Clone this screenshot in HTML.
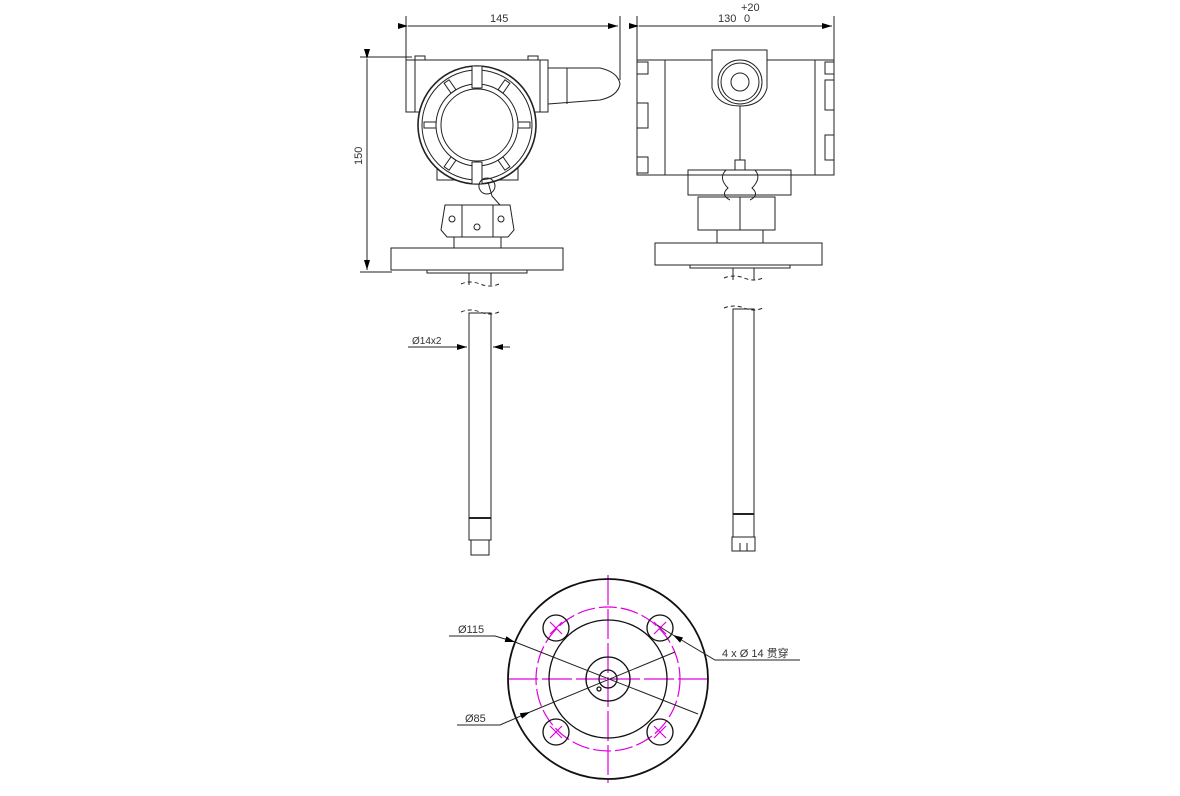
<!DOCTYPE html>
<html><head><meta charset="utf-8"><style>html,body{margin:0;padding:0;background:#fff}svg{display:block}</style></head>
<body>
<svg width="1180" height="796" viewBox="0 0 1180 796" xmlns="http://www.w3.org/2000/svg" font-family="Liberation Sans, sans-serif">
<defs><marker id="a" markerWidth="10" markerHeight="6" refX="10" refY="3" orient="auto" markerUnits="userSpaceOnUse"><path d="M0,0 L10,3 L0,6z" fill="#000"/></marker></defs>
<g fill="none" stroke="#222" stroke-width="1">
<line x1="406" y1="16" x2="406" y2="60"/><line x1="620" y1="16" x2="620" y2="80"/>
<line x1="408" y1="26" x2="618" y2="26" marker-start="url(#a)" marker-end="url(#a)"/>
<line x1="360" y1="57" x2="412" y2="57"/><line x1="360" y1="272" x2="392" y2="272"/>
<line x1="367" y1="59" x2="367" y2="270" marker-start="url(#a)" marker-end="url(#a)"/>
<rect x="406" y="60" width="142" height="52"/>
<line x1="415" y1="60" x2="415" y2="112"/><line x1="540" y1="60" x2="540" y2="112"/>
<rect x="415" y="56" width="10" height="4"/><rect x="528" y="56" width="10" height="4"/>
<path d="M548,68 L600,68 Q618,72 620,84 Q618,96 600,100 L548,104"/>
<line x1="567" y1="68" x2="567" y2="104"/>
<rect x="437" y="160" width="81" height="20" fill="#fff"/>
<circle cx="477" cy="125" r="59" fill="#fff" stroke-width="1.6"/>
<circle cx="477" cy="125" r="55"/>
<circle cx="477" cy="125" r="41"/><circle cx="477" cy="125" r="36"/>
<g transform="translate(477 125)">
<rect x="-3" y="-53" width="6" height="12" transform="rotate(35)"/><rect x="-3" y="-53" width="6" height="12" transform="rotate(-35)"/>
<rect x="-3" y="-53" width="6" height="12" transform="rotate(90)"/><rect x="-3" y="-53" width="6" height="12" transform="rotate(-90)"/>
<rect x="-3" y="-53" width="6" height="12" transform="rotate(145)"/><rect x="-3" y="-53" width="6" height="12" transform="rotate(-145)"/>
</g>
<rect x="472" y="66" width="10" height="22" fill="#fff"/><rect x="472" y="162" width="10" height="22" fill="#fff"/>
<path d="M487,178 a8,8 0 1,1 -0.1,0 M488,182 L492,196 L500,205"/>
<path d="M445,205 L510,205 L514,230 L508,237 L447,237 L441,230 Z"/>
<line x1="462" y1="205" x2="462" y2="237"/><line x1="493" y1="205" x2="493" y2="237"/>
<circle cx="452" cy="219" r="3"/><circle cx="501" cy="219" r="3"/><circle cx="477" cy="227" r="3"/>
<rect x="454" y="237" width="47" height="11"/>
<rect x="391" y="248" width="172" height="22"/>
<rect x="427" y="270" width="100" height="3"/>
<line x1="469" y1="273" x2="469" y2="285"/><line x1="491" y1="273" x2="491" y2="285"/>
<path d="M461,284 Q470,280 480,284 T499,284" stroke-dasharray="4,3"/>
<path d="M461,312 Q470,308 480,312 T499,312" stroke-dasharray="4,3"/>
<rect x="469" y="313" width="22" height="205"/>
<line x1="469" y1="518" x2="491" y2="518" stroke-width="2"/>
<rect x="469" y="518" width="22" height="22"/>
<rect x="471" y="540" width="18" height="15"/>
<line x1="408" y1="347" x2="467" y2="347" marker-end="url(#a)"/>
<line x1="510" y1="347" x2="493" y2="347" marker-end="url(#a)"/>
<line x1="637" y1="16" x2="637" y2="60"/><line x1="834" y1="16" x2="834" y2="60"/>
<line x1="639" y1="26" x2="832" y2="26" marker-start="url(#a)" marker-end="url(#a)"/>
<rect x="637" y="60" width="197" height="115"/>
<line x1="665" y1="60" x2="665" y2="175"/><line x1="815" y1="60" x2="815" y2="175"/>
<rect x="637" y="62" width="11" height="12"/><rect x="637" y="103" width="11" height="25"/><rect x="637" y="157" width="11" height="16"/>
<rect x="825" y="62" width="9" height="12"/><rect x="825" y="80" width="9" height="30"/><rect x="825" y="135" width="9" height="25"/>
<path d="M712,50 L767,50 L767,88 Q762,106 740,106 Q718,106 712,88 Z" fill="#fff"/>
<circle cx="740" cy="82" r="22"/><circle cx="740" cy="82" r="19"/><circle cx="740" cy="82" r="9"/>
<line x1="740" y1="106" x2="740" y2="160"/>
<rect x="735" y="160" width="10" height="10"/>
<path d="M688,170 L791,170 L791,195 L688,195 Z"/>
<path d="M726,170 Q718,178 728,188 Q720,195 730,200 M755,170 Q762,178 752,188 Q760,195 750,200"/>
<rect x="698" y="197" width="77" height="33"/><line x1="740" y1="197" x2="740" y2="230"/>
<rect x="717" y="230" width="46" height="13"/>
<rect x="655" y="243" width="167" height="22"/>
<rect x="690" y="265" width="100" height="3"/>
<line x1="733" y1="268" x2="733" y2="280"/><line x1="754" y1="268" x2="754" y2="280"/>
<path d="M724,278 Q734,274 744,278 T763,278" stroke-dasharray="4,3"/>
<path d="M724,308 Q734,304 744,308 T763,308" stroke-dasharray="4,3"/>
<rect x="733" y="309" width="21" height="205"/>
<line x1="733" y1="514" x2="754" y2="514" stroke-width="2"/>
<rect x="733" y="514" width="21" height="23"/>
<rect x="732" y="537" width="23" height="14"/><line x1="740" y1="543" x2="740" y2="551"/><line x1="747" y1="543" x2="747" y2="551"/>
</g>
<g font-size="11" fill="#333">
<text x="490" y="22">145</text>
<text x="362" y="165" transform="rotate(-90 362 165)">150</text>
<text x="718" y="22">130</text><text x="744" y="22">0</text><text x="741" y="11">+20</text>
<text x="412" y="344" font-size="10">Ø14x2</text>
</g>
<g fill="none">
<g stroke="#e000e0" stroke-width="1.2">
<circle cx="608" cy="679" r="72" stroke-dasharray="18,4"/>
<line x1="508" y1="679" x2="712" y2="679" stroke-dasharray="30,4"/>
<line x1="608" y1="575" x2="608" y2="783" stroke-dasharray="30,4"/>
<path d="M550,622 l12,12 m0,-12 l-12,12 M654,622 l12,12 m0,-12 l-12,12 M550,726 l12,12 m0,-12 l-12,12 M654,726 l12,12 m0,-12 l-12,12"/>
</g>
<g stroke="#111" stroke-width="1.3">
<circle cx="608" cy="679" r="100" stroke-width="1.8"/>
<circle cx="608" cy="679" r="59"/>
<circle cx="608" cy="679" r="22"/><circle cx="608" cy="679" r="9"/>
<circle cx="599" cy="689" r="2"/>
<circle cx="556" cy="628" r="13"/><circle cx="660" cy="628" r="13"/><circle cx="556" cy="732" r="13"/><circle cx="660" cy="732" r="13"/>
</g>
<g stroke="#222" stroke-width="1">
<path d="M449,636 L495,636 L515,642" marker-end="url(#a)"/><line x1="515" y1="642" x2="698" y2="714"/>
<path d="M457,725 L500,725 L530,712" marker-end="url(#a)"/><line x1="530" y1="712" x2="675" y2="652"/>
<path d="M800,660 L715,660 L673,635" marker-end="url(#a)"/><line x1="673" y1="635" x2="657" y2="625"/>
</g>
</g>
<g font-size="11" fill="#333">
<text x="458" y="633">Ø115</text>
<text x="465" y="722">Ø85</text>
<text x="722" y="657" font-family="Liberation Sans, Noto Sans CJK SC, sans-serif">4 x  Ø 14 贯穿</text>
</g>
</svg>
</body></html>
